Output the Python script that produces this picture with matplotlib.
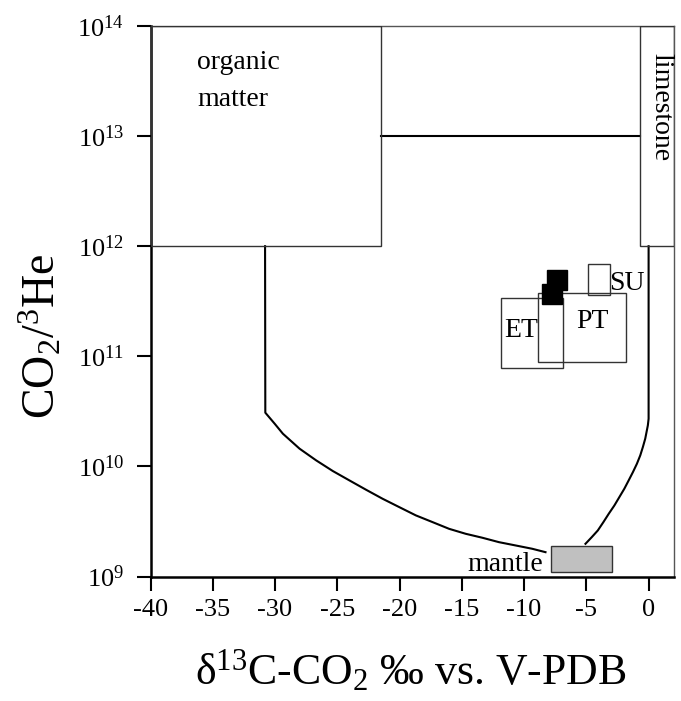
import numpy as np
import matplotlib
matplotlib.use("Agg")
import matplotlib.pyplot as plt
from matplotlib.patches import Rectangle

plt.rcParams['font.family'] = ['Liberation Serif', 'DejaVu Serif']
plt.rcParams['mathtext.fontset'] = 'custom'
plt.rcParams['mathtext.rm'] = 'Liberation Serif'
plt.rcParams['mathtext.it'] = 'Liberation Serif:italic'

# end-member and sample fields: name, d13C range, CO2/3He range
box_names = ["organic", "limestone", "mantle", "ET", "PT", "SU"]
box_x = [(-40, -21.5), (-0.7, 2.0), (-7.85, -2.9), (-11.85, -6.85), (-8.9, -1.85), (-4.9, -3.1)]
box_y = [(1e12, 1e14), (1e12, 1e14), (1.1e9, 1.9e9), (7.9e10, 3.4e11), (8.9e10, 3.76e11), (3.6e11, 6.9e11)]

# samples (black squares)
sample_x = [-7.38, -7.76]
sample_y = [4.9e11, 3.7e11]

# limestone / organic link at 1e13
link_x = [-21.5, -0.7]
link_y = [1e13, 1e13]

# mixing curves (log10 of CO2/3He)
left_x = [-30.8, -30.78, -30.03, -29.37, -28.03, -26.70, -25.36, -24.03, -22.69, -21.36,
          -20.02, -18.69, -17.35, -16.02, -14.69, -13.35, -12.02, -10.68, -9.35, -8.28]
left_logy = [12.0, 10.488, 10.388, 10.297, 10.161, 10.055, 9.958, 9.873, 9.788, 9.706,
             9.630, 9.555, 9.494, 9.433, 9.388, 9.352, 9.312, 9.282, 9.252, 9.221]
right_x = [0.0, 0.0, -0.06, -0.14, -0.27, -0.46, -0.67, -0.94, -1.26, -1.60, -1.95,
           -2.35, -2.75, -3.20, -3.63, -4.08, -4.56, -5.07]
right_logy = [12.0, 10.433, 10.373, 10.327, 10.252, 10.176, 10.100, 10.024, 9.948, 9.873,
              9.797, 9.721, 9.645, 9.570, 9.494, 9.418, 9.358, 9.297]

x_ticks = [-40, -35, -30, -25, -20, -15, -10, -5, 0]

fig = plt.figure(figsize=(6.81, 7.01), dpi=100)
ax = fig.add_axes([0.221, 0.1776, 0.768, 0.7853])

ax.set_yscale('log')
ax.set_xlim(-40, 2)
ax.set_ylim(1e9, 1e14)

ax.plot(left_x, 10 ** np.array(left_logy), color='black', lw=1.5)
ax.plot(right_x, 10 ** np.array(right_logy), color='black', lw=1.5)
ax.plot(link_x, link_y, color='black', lw=1.5)

for name, (x0, x1), (y0, y1) in zip(box_names, box_x, box_y):
    face = '#c0c0c0' if name == 'mantle' else 'none'
    ax.add_patch(Rectangle((x0, y0), x1 - x0, y1 - y0, facecolor=face,
                           edgecolor='#333333', lw=1.0, zorder=3))

ax.plot(sample_x, sample_y, 's', color='black', ms=14, zorder=4)

fs = 20
ax.text(-36.25, 4.04e13, "organic", fontsize=fs, ha='left', va='baseline')
ax.text(-36.25, 1.87e13, "matter", fontsize=fs, ha='left', va='baseline')
ax.text(1.0, 1.84e13, "limestone", fontsize=fs, rotation=270, ha='center', va='center')
ax.text(-10.25, 1.49e11, "ET", fontsize=fs, ha='center', va='baseline')
ax.text(-4.5, 1.8e11, "PT", fontsize=fs, ha='center', va='baseline')
ax.text(-1.75, 4.04e11, "SU", fontsize=fs, ha='center', va='baseline')
ax.text(-8.45, 1.13e9, "mantle", fontsize=fs, ha='right', va='baseline')

ax.set_xticks(x_ticks)
ax.set_xticklabels([str(t) for t in x_ticks])
ax.yaxis.set_minor_locator(matplotlib.ticker.NullLocator())
ax.tick_params(axis='both', which='major', direction='out', length=10, width=1.5,
               labelsize=19, colors='black', pad=6)
ax.tick_params(axis='y', pad=9)

for s in ['left', 'bottom']:
    ax.spines[s].set_linewidth(1.8)
    ax.spines[s].set_color('black')
for s in ['top', 'right']:
    ax.spines[s].set_linewidth(1.0)
    ax.spines[s].set_color('#555555')

fig.text(0.603, 0.0243, "δ$^{13}$C-CO$_2$ ‰ vs. V-PDB", fontsize=31.5, ha='center', va='baseline')
fig.text(0.060, 0.52, "CO$_2$/$^3$He", fontsize=33, rotation=90, ha='center', va='center')

fig.savefig("out.png", dpi=100)
